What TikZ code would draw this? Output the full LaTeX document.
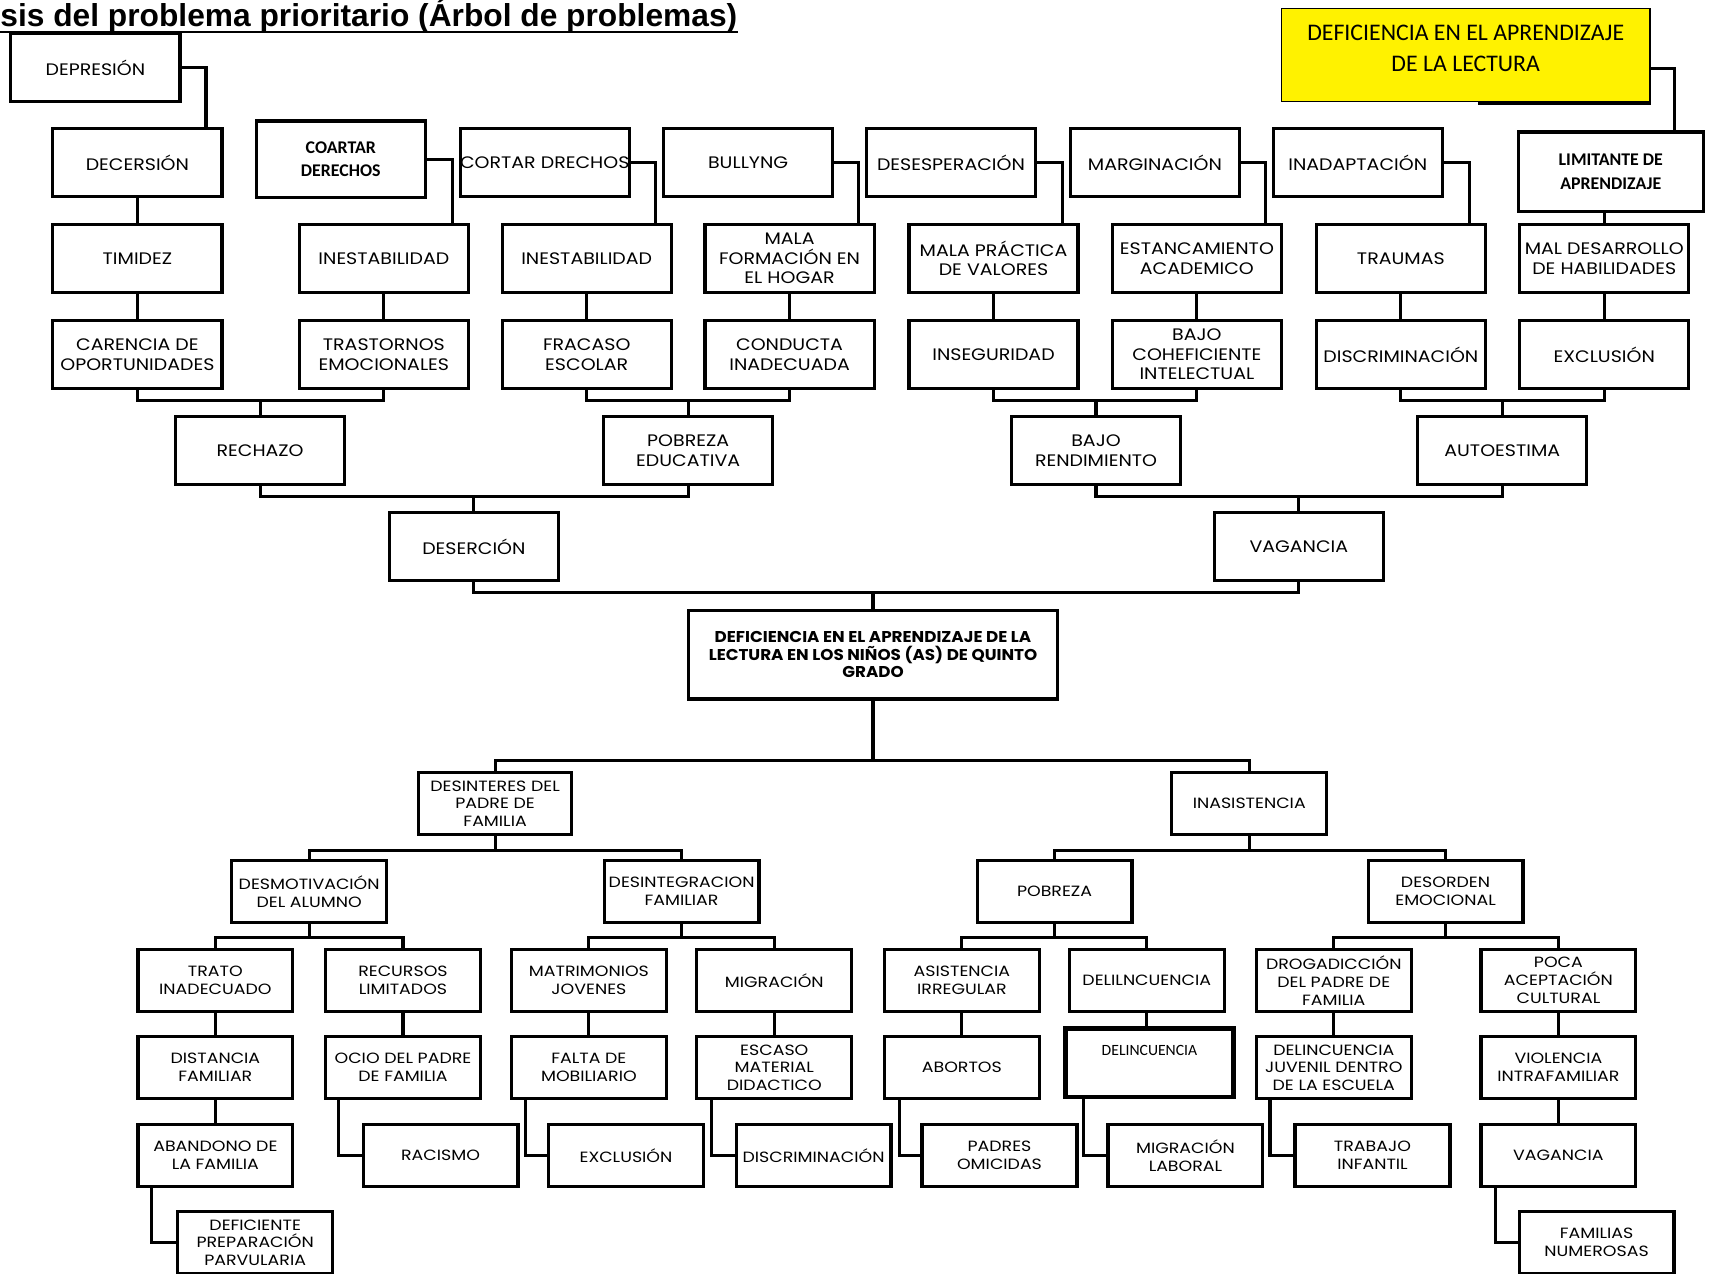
\documentclass[tikz,border=0pt]{standalone}
\usepackage{fontspec}
\setmainfont{Carlito}
\newfontfamily\gotica[FakeStretch=1.14]{Poppins}
\newfontfamily\goticab[FakeStretch=1.17]{Poppins}
\newfontfamily\goticac[FakeStretch=1.07]{Poppins}
\newfontfamily\arial{Liberation Sans}
\usetikzlibrary{calc}
\usetikzlibrary{positioning}
\tikzset{
    caja/.style = {draw=black, line width=1.6pt, align=center, inner sep=0pt, fill=white, font=\gotica\fontsize{8.4}{9.9}\selectfont, minimum width=85.25pt, minimum height=34.1pt},
    cajab/.style = {caja, font=\goticab\fontsize{7.5}{9}\selectfont, minimum width=78.1pt, minimum height=31.35pt},
    cajan/.style = {caja, font=\bfseries\fontsize{9}{12}\selectfont},
    linea/.style = {line width=1.6pt},
}

\begin{document}
\begin{tikzpicture}[x=0.55pt, y=-0.55pt]
\tikzset{
    amarilla/.style = {draw=black, line width=0.6pt, fill=yellow, align=center, font=\fontsize{12}{15.5}\selectfont, minimum width=185.9pt, minimum height=46.75pt},
    central/.style = {caja, font=\goticac\bfseries\fontsize{7.9}{8.8}\selectfont, minimum width=186.45pt, minimum height=44.55pt},
}
\useasboundingbox (0,0) rectangle (1568,1168);
%
\node[font=\arial\bfseries\fontsize{16}{19}\selectfont, inner sep=0pt, anchor=base west] at (0,24.5) (titulo) {sis del problema prioritario (Árbol de problemas)};
\draw[line width=1pt] ([yshift=-2.8pt]titulo.base west) -- ([yshift=-2.8pt]titulo.base east);
%
\node[amarilla] at (1344,50.5) (lectura) {DEFICIENCIA EN EL APRENDIZAJE\\DE LA LECTURA\rule[-7pt]{0pt}{0pt}};
\draw[line width=1.4pt] ([yshift=-0.6pt]lectura.south east) -- ++(-158,0);
%
\node[caja] at (87.5,62) (depresion) {DEPRESIÓN};
\node[caja] at (126,149) (decersion) {DECERSIÓN};
\node[caja] at (126,237) (timidez) {TIMIDEZ};
\node[caja] at (126,325) (carencia) {CARENCIA DE\\OPORTUNIDADES};
\node[cajan, minimum height=38.5pt] at (312.5,146) (coartar) {COARTAR\\DERECHOS};
\node[caja] at (352,237) (inestA) {INESTABILIDAD};
\node[caja] at (352,325) (trastornos) {TRASTORNOS\\EMOCIONALES};
\node[caja] at (499.5,149) (cortar) {\makebox[80pt]{CORTAR DRECHOS}};
\node[caja] at (538,237) (inestB) {INESTABILIDAD};
\node[caja] at (538,325) (fracaso) {FRACASO\\ESCOLAR};
\node[caja] at (686,149) (bullyng) {BULLYNG};
\node[caja] at (724,237) (malaform) {MALA\\FORMACIÓN EN\\EL HOGAR};
\node[caja] at (724,325) (conducta) {CONDUCTA\\INADECUADA};
\node[caja] at (872,149) (desesp) {DESESPERACIÓN};
\node[caja] at (911,237) (malaprac) {MALA PRÁCTICA\\DE VALORES};
\node[caja] at (911,325) (inseg) {INSEGURIDAD};
\node[caja] at (1059,149) (margin) {MARGINACIÓN};
\node[caja] at (1097.5,237) (estanc) {ESTANCAMIENTO\\ACADEMICO};
\node[caja] at (1097.5,325) (bajocoef) {BAJO\\COHEFICIENTE\\INTELECTUAL};
\node[caja] at (1245,149) (inadap) {INADAPTACIÓN};
\node[caja] at (1284.5,237) (traumas) {TRAUMAS};
\node[caja] at (1284.5,325) (discrimA) {DISCRIMINACIÓN};
\node[cajan, minimum width=93.5pt, minimum height=40.15pt] at (1477,157.5) (limitante) {LIMITANTE DE\\APRENDIZAJE};
\node[caja] at (1471,237) (maldes) {\makebox[82pt]{MAL DESARROLLO}\\DE HABILIDADES};
\node[caja] at (1471,325) (exclA) {EXCLUSIÓN};
%
\node[caja] at (238.5,413) (rechazo) {RECHAZO};
\node[caja] at (631,413) (pobrezaed) {POBREZA\\EDUCATIVA};
\node[caja] at (1005,413) (bajorend) {BAJO\\RENDIMIENTO};
\node[caja] at (1377.5,413) (autoest) {AUTOESTIMA};
\node[caja] at (434.5,501) (desercion) {DESERCIÓN};
\node[caja] at (1191,501) (vagA) {VAGANCIA};
%
\node[central] at (800.5,600.5) (problema) {DEFICIENCIA EN EL APRENDIZAJE DE LA\\LECTURA EN LOS NIÑOS (AS) DE QUINTO\\GRADO};
%
\node[cajab, minimum width=77pt] at (454,737) (desinteres) {DESINTERES DEL\\PADRE DE\\FAMILIA};
\node[cajab] at (1145.5,737) (inasist) {INASISTENCIA};
\node[cajab] at (283.5,817.5) (desmotiv) {DESMOTIVACIÓN\\DEL ALUMNO};
\node[cajab] at (625,817.5) (desinteg) {DESINTEGRACION\\FAMILIAR};
\node[cajab] at (967,817.5) (pobreza) {POBREZA};
\node[cajab] at (1325.5,817.5) (desorden) {DESORDEN\\EMOCIONAL};
%
\node[cajab] at (197.5,899) (trato) {TRATO\\INADECUADO};
\node[cajab] at (369.5,899) (recursos) {RECURSOS\\LIMITADOS};
\node[cajab] at (540,899) (matrim) {MATRIMONIOS\\JOVENES};
\node[cajab] at (710,899) (migracion) {MIGRACIÓN};
\node[cajab] at (882,899) (asist) {ASISTENCIA\\IRREGULAR};
\node[cajab] at (1051.5,899) (delil) {DELILNCUENCIA};
\node[cajab] at (1223,899) (drogad) {DROGADICCIÓN\\DEL PADRE DE\\FAMILIA};
\node[cajab] at (1429,899) (poca) {POCA\\ACEPTACIÓN\\CULTURAL};
%
\node[cajab] at (197.5,979) (distancia) {DISTANCIA\\FAMILIAR};
\node[cajab] at (369.5,979) (ocio) {OCIO DEL PADRE\\DE FAMILIA};
\node[cajab] at (540,979) (falta) {FALTA DE\\MOBILIARIO};
\node[cajab] at (710,979) (escaso) {ESCASO\\MATERIAL\\DIDACTICO};
\node[cajab] at (882,979) (abortos) {ABORTOS};
\node[cajab, font=\fontsize{7.9}{9}\selectfont, line width=2.4pt, minimum width=84.7pt, inner ysep=3pt, text height=10.75pt, text depth=17.9pt] at (1054,974.5) (delinc) {DELINCUENCIA};
\node[cajab] at (1223,979) (juvenil) {DELINCUENCIA\\JUVENIL DENTRO\\DE LA ESCUELA};
\node[cajab] at (1429,979) (violencia) {VIOLENCIA\\INTRAFAMILIAR};
%
\node[cajab] at (197.5,1059.5) (abandono) {ABANDONO DE\\LA FAMILIA};
\node[cajab] at (404,1059.5) (racismo) {RACISMO};
\node[cajab] at (574,1059.5) (exclB) {EXCLUSIÓN};
\node[cajab] at (746,1059.5) (discrimB) {DISCRIMINACIÓN};
\node[cajab] at (916.5,1059.5) (padres) {PADRES\\OMICIDAS};
\node[cajab] at (1087,1059.5) (miglab) {MIGRACIÓN\\LABORAL};
\node[cajab] at (1258.5,1059.5) (trabajo) {TRABAJO\\INFANTIL};
\node[cajab] at (1429,1059.5) (vagB) {VAGANCIA};
\node[cajab] at (234,1139.5) (deficiente) {DEFICIENTE\\PREPARACIÓN\\PARVULARIA};
\node[cajab] at (1464,1139.5) (familias) {FAMILIAS\\NUMEROSAS};
%
\draw[linea] (depresion.east) -| ($(decersion.north east)+(-16,0)$);
\draw[linea] (decersion.south) -- (timidez.north);
\draw[linea] (timidez.south) -- (carencia.north);
\draw[linea] (coartar.east) -| ($(inestA.north east)+(-16,0)$);
\draw[linea] (inestA.south) -- (trastornos.north);
\draw[linea] (cortar.east) -| ($(inestB.north east)+(-16,0)$);
\draw[linea] (inestB.south) -- (fracaso.north);
\draw[linea] (bullyng.east) -| ($(malaform.north east)+(-16,0)$);
\draw[linea] (malaform.south) -- (conducta.north);
\draw[linea] (desesp.east) -| ($(malaprac.north east)+(-16,0)$);
\draw[linea] (malaprac.south) -- (inseg.north);
\draw[linea] (margin.east) -| ($(estanc.north east)+(-16,0)$);
\draw[linea] (estanc.south) -- (bajocoef.north);
\draw[linea] (inadap.east) -| ($(traumas.north east)+(-16,0)$);
\draw[linea] (traumas.south) -- (discrimA.north);
\draw[linea] ($(lectura.east)+(0,12.5)$) -| ($(limitante.north east)+(-28,0)$);
\draw[linea] (maldes.north) -- (maldes.north |- limitante.south);
\draw[linea] (maldes.south) -- (exclA.north);
%
\draw[linea] (rechazo.north) -- ++(0,-13) coordinate (r1);
\draw[linea] (carencia.south) |- (r1) -| (trastornos.south);
\draw[linea] (pobrezaed.north) -- ++(0,-13) coordinate (r2);
\draw[linea] (fracaso.south) |- (r2) -| (conducta.south);
\draw[linea] (bajorend.north) -- ++(0,-13) coordinate (r3);
\draw[linea] (inseg.south) |- (r3) -| (bajocoef.south);
\draw[linea] (autoest.north) -- ++(0,-13) coordinate (r4);
\draw[linea] (discrimA.south) |- (r4) -| (exclA.south);
\draw[linea] (desercion.north) -- ++(0,-13) coordinate (r5);
\draw[linea] (rechazo.south) |- (r5) -| (pobrezaed.south);
\draw[linea] (vagA.north) -- ++(0,-13) coordinate (r6);
\draw[linea] (bajorend.south) |- (r6) -| (autoest.south);
\draw[linea] (problema.north) -- ++(0,-15) coordinate (r7);
\draw[linea] (desercion.south) |- (r7) -| (vagA.south);
%
\draw[linea] (problema.south) -- ++(0,55) coordinate (c1);
\draw[linea] (desinteres.north) |- (c1) -| (inasist.north);
\draw[linea] (desinteres.south) -- ++(0,13) coordinate (c2);
\draw[linea] (desmotiv.north) |- (c2) -| (desinteg.north);
\draw[linea] (inasist.south) -- ++(0,13) coordinate (c3);
\draw[linea] (pobreza.north) |- (c3) -| (desorden.north);
\draw[linea] (desmotiv.south) -- ++(0,12) coordinate (c4);
\draw[linea] (trato.north) |- (c4) -| (recursos.north);
\draw[linea] (desinteg.south) -- ++(0,12) coordinate (c5);
\draw[linea] (matrim.north) |- (c5) -| (migracion.north);
\draw[linea] (pobreza.south) -- ++(0,12) coordinate (c6);
\draw[linea] (asist.north) |- (c6) -| (delil.north);
\draw[linea] (desorden.south) -- ++(0,12) coordinate (c7);
\draw[linea] (drogad.north) |- (c7) -| (poca.north);
%
\draw[linea] (trato.south) -- (distancia.north);
\draw[linea] (distancia.south) -- (abandono.north);
\draw[linea] (recursos.south) -- (ocio.north);
\draw[linea] (matrim.south) -- (falta.north);
\draw[linea] (migracion.south) -- (escaso.north);
\draw[linea] (asist.south) -- (abortos.north);
\draw[linea] (delil.south) -- (delil.south |- delinc.north);
\draw[linea] (drogad.south) -- (juvenil.north);
\draw[linea] (poca.south) -- (violencia.north);
\draw[linea] (violencia.south) -- (vagB.north);
%
\draw[linea] ($(ocio.south west)+(13,0)$) |- (racismo.west);
\draw[linea] ($(falta.south west)+(14,0)$) |- (exclB.west);
\draw[linea] ($(escaso.south west)+(15,0)$) |- (discrimB.west);
\draw[linea] ($(abandono.south west)+(14,0)$) |- (deficiente.west);
\draw[linea] ($(abortos.south west)+(15,0)$) |- (padres.west);
\draw[linea] ($(delinc.south west)+(19,0)$) |- (miglab.west);
\draw[linea] ($(juvenil.south west)+(14,0)$) |- (trabajo.west);
\draw[linea] ($(vagB.south west)+(15,0)$) |- (familias.west);
\end{tikzpicture}
\end{document}
